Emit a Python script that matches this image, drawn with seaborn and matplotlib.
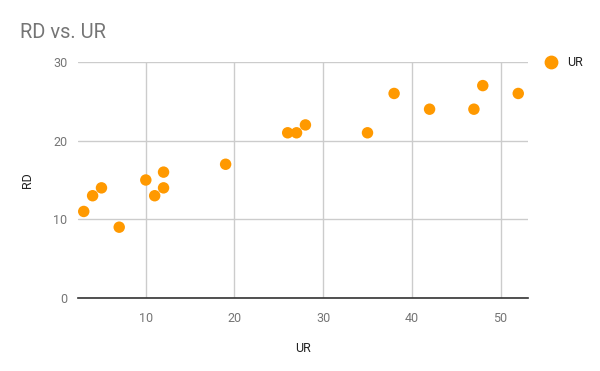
import matplotlib
matplotlib.use("Agg")
import matplotlib.pyplot as plt
import seaborn as sns
import pandas as pd

ur = [3, 4, 5, 7, 10, 11, 12, 12, 19, 26, 27, 28, 35, 38, 42, 47, 48, 52]
rd = [11, 13, 14, 9, 15, 13, 16, 14, 17, 21, 21, 22, 21, 26, 24, 24, 27, 26]
x_ticks = [10, 20, 30, 40, 50]
y_ticks = [0, 10, 20, 30]

df = pd.DataFrame({"UR": ur, "RD": rd, "series": "UR"})

sns.set_style("white")
plt.rcParams["font.family"] = ["Roboto", "DejaVu Sans"]

fig = plt.figure(figsize=(6, 3.71), dpi=100)
ax = fig.add_axes([0.1307, 0.1968, 0.7493, 0.8329 - 0.1968])

sns.scatterplot(data=df, x="UR", y="RD", hue="series", palette=["#FF9900"],
                s=68, edgecolor="none", ax=ax, zorder=3, legend=False)

ax.set_xlim(2.4, 53.1)
ax.set_ylim(0, 30)
ax.set_xticks(x_ticks)
ax.set_yticks(y_ticks)
ax.grid(True, color="#cccccc", linewidth=1)
ax.set_axisbelow(True)
for s in ["left", "right", "top"]:
    ax.spines[s].set_visible(False)
ax.spines["bottom"].set_color("#333333")
ax.spines["bottom"].set_linewidth(1.2)
ax.spines["bottom"].set_zorder(4)
ax.tick_params(axis="both", length=0, labelsize=9, colors="#757575", pad=8)
ax.tick_params(axis="x", pad=10)
ax.set_xlabel("UR", fontsize=9, color="#222222", labelpad=12)
ax.set_ylabel("RD", fontsize=9, color="#222222", labelpad=14)

fig.text(20 / 600, 1 - 33 / 371, "RD vs. UR", fontsize=14.5, color="#757575",
         ha="left", va="center")

# legend
ax.scatter([], [], s=80, color="#FF9900", label="UR")
leg = fig.legend(loc="center left", bbox_to_anchor=(527 / 600, 1 - 62 / 371),
                 frameon=False, fontsize=9, handletextpad=0.3, labelcolor="#222222")

fig.savefig("out.png", dpi=100)
